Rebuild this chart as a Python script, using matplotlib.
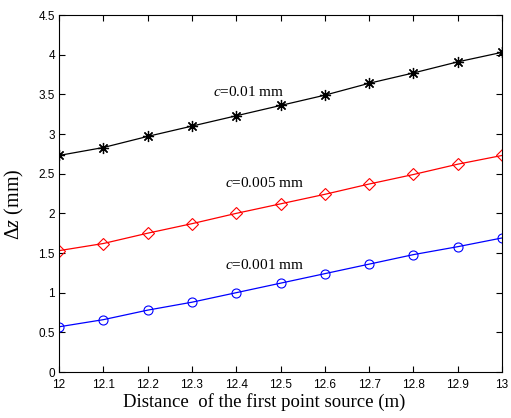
import matplotlib
matplotlib.use("Agg")
import matplotlib.pyplot as plt

# distance of the first point source (m)
distance = [12.0, 12.1, 12.2, 12.3, 12.4, 12.5, 12.6, 12.7, 12.8, 12.9, 13.0]
tick_labels = ["12", "12.1", "12.2", "12.3", "12.4", "12.5", "12.6", "12.7", "12.8", "12.9", "13"]

# delta z (mm) for each c
dz_c001 = [2.73, 2.83, 2.97, 3.10, 3.23, 3.36, 3.49, 3.64, 3.77, 3.91, 4.03]
dz_c0005 = [1.53, 1.62, 1.75, 1.87, 2.00, 2.12, 2.24, 2.37, 2.49, 2.62, 2.73]
dz_c0001 = [0.57, 0.66, 0.78, 0.88, 1.00, 1.12, 1.24, 1.36, 1.48, 1.58, 1.69]

serif = "Liberation Serif"
sans = "Liberation Sans"
plt.rcParams["mathtext.fontset"] = "custom"
plt.rcParams["mathtext.rm"] = serif
plt.rcParams["mathtext.it"] = serif + ":italic"

fig = plt.figure(figsize=(5.11, 4.18), dpi=100)
ax = fig.add_axes([0.1155, 0.110, 0.867, 0.854])

ax.plot(distance, dz_c001, color="black", lw=0.9, marker=(8, 2, 0), ms=8, mew=0.9)
ax.plot(distance, dz_c0005, color="red", lw=0.9, marker="D", ms=6, mfc="none", mew=0.8)
ax.plot(distance, dz_c0001, color="blue", lw=0.9, marker="o", ms=6.5, mfc="none", mew=0.8)

# labels next to curves
ax.text(12.348, 3.53, r"$c$=0.01 mm", family=serif, fontsize=11, va="center")
ax.text(12.375, 2.38, r"$c$=0.005 mm", family=serif, fontsize=11, va="center")
ax.text(12.375, 1.35, r"$c$=0.001 mm", family=serif, fontsize=11, va="center")

ax.set_xlim(12, 13)
ax.set_ylim(0, 4.5)
ax.set_xticks(distance)
ax.set_xticklabels(tick_labels)
ax.set_yticks([0, 0.5, 1, 1.5, 2, 2.5, 3, 3.5, 4, 4.5])
ax.set_yticklabels(["0", "0.5", "1", "1.5", "2", "2.5", "3", "3.5", "4", "4.5"])
ax.tick_params(direction="in", top=True, right=True, length=4, width=0.8)
ax.tick_params(axis="x", pad=5)
ax.tick_params(axis="y", pad=3)
for lab in ax.get_xticklabels() + ax.get_yticklabels():
    lab.set_family(sans)
    lab.set_fontsize(8.5)
for sp in ax.spines.values():
    sp.set_linewidth(0.8)

ax.set_xlabel("Distance  of the first point source (m)", family=serif, fontsize=13.5)
ax.xaxis.set_label_coords(0.463, -0.058)
ax.set_ylabel(r"$\mathit{\Delta z}$ (mm)", family=serif, fontsize=14.5)
ax.yaxis.set_label_coords(-0.075, 0.47)

fig.savefig("out.png", dpi=100)
